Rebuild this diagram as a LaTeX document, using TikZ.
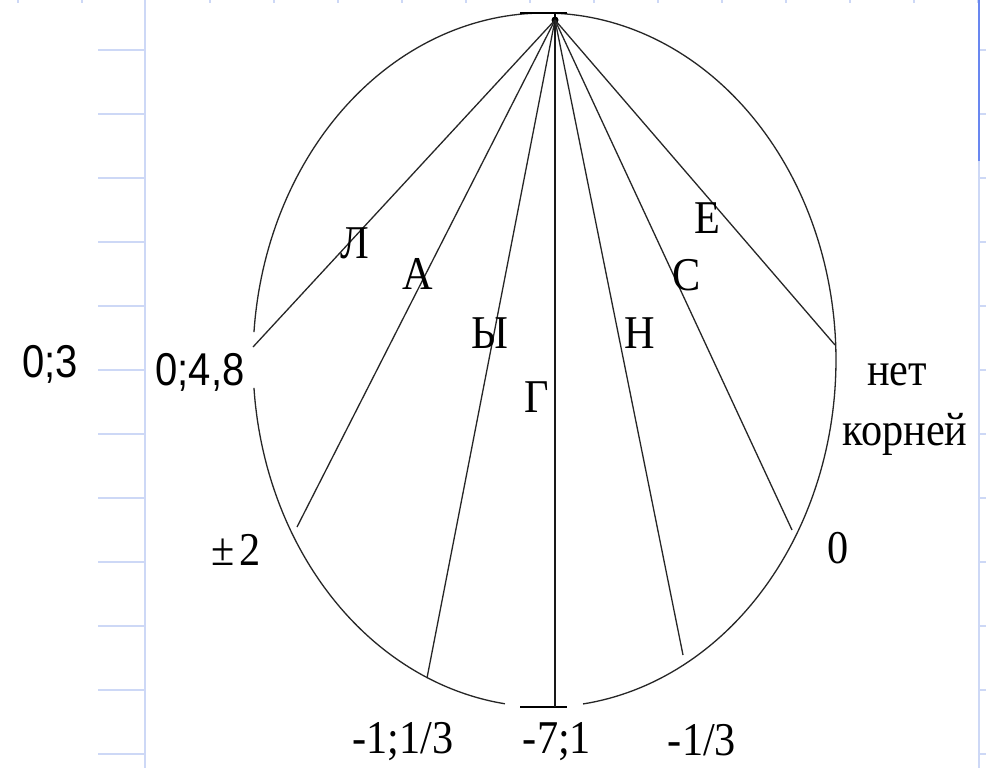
\documentclass[tikz,border=0pt]{standalone}
\usepackage{fontspec}
\setmainfont{Liberation Serif}[FakeStretch=0.9]
\newfontfamily\arialf{Liberation Sans}[FakeStretch=0.87]
\definecolor{gridl}{RGB}{205,216,246}
\definecolor{gridd}{RGB}{105,135,240}
\begin{document}
\begin{tikzpicture}[x=1pt,y=-1pt,
  gridline/.style={draw=gridl,line width=1.3pt},
  chord/.style={draw=black!85,line width=1.3pt},
  lbl/.style={anchor=base,inner sep=0pt,font=\fontsize{47}{50}\selectfont},
  albl/.style={anchor=base,inner sep=0pt,font=\arialf\fontsize{46}{50}\selectfont}]
\useasboundingbox (0,0) rectangle (986,768);
\fill[white] (0,0) rectangle (986,768);
% background grid
\draw[gridline] (145,0) -- (145,768);
\foreach \k in {0,...,11} {\draw[gridline] (98,{50+64*\k}) -- (145,{50+64*\k});}
\foreach \k in {0,...,11} {\draw[gridline] (979,{50+64*\k}) -- (986,{50+64*\k});}
\foreach \k in {0,1,3,4,...,15} {\draw[gridline] ({18+64*\k},0) -- ({18+64*\k},3);}
\draw[gridline] (979,161) -- (979,768);
\draw[draw=gridd,line width=1.5pt] (979,0) -- (979,161);
% ellipse with gaps
\draw[black!85,line width=1.3pt] plot[domain=184.6:442.4,samples=200] ({544.5+291.5*cos(\x)},{360+347*sin(\x)});
\draw[black!85,line width=1.3pt] plot[domain=97.8:175.4,samples=100] ({544.5+291.5*cos(\x)},{360+347*sin(\x)});
\draw[black,line width=2pt] (520,13) -- (567,13);
\draw[black,line width=2pt] (520,707) -- (567,707);
% points
\coordinate (apex) at (555,20);
\coordinate (eL) at (253,347);
\coordinate (eA) at (297,527);
\coordinate (eY) at (427,678);
\coordinate (eG) at (555,707);
\coordinate (eN) at (683,655);
\coordinate (eS) at (792,530);
\coordinate (eE) at (835,345);
\draw[black,line width=1.5pt] (555,13) -- (apex);
\fill[black] (apex) circle (3.5pt);
% chords
\draw[chord] (apex) -- (eL);
\draw[chord] (apex) -- (eA);
\draw[chord] (apex) -- (eY);
\draw[black!90,line width=1.6pt] (apex) -- (eG);
\draw[chord] (apex) -- (eN);
\draw[chord] (apex) -- (eS);
\draw[chord] (apex) -- (eE);
% chord labels
\node[lbl] (tL) at (355,258) {Л};
\node[lbl] (tA) at (418,289) {А};
\node[lbl] (tY) at (490,348) {Ы};
\node[lbl] (tG) at (537,412) {Г};
\node[lbl] (tN) at (640,348) {Н};
\node[lbl] (tS) at (687,290) {С};
\node[lbl] (tE) at (707,233) {Е};
% value labels
\node[albl] (v03) at (50,377) {0;3};
\node[albl] (v048) at (200,385) {0;4,8};
\node[lbl] (vpm) at (236,565) {±\kern4pt2};
\node[lbl] (vnet) at (897,385) {нет};
\node[lbl] (vkor) at (905,445) {корней};
\node[lbl] (v0) at (838,563) {0};
\node[lbl] (v113) at (403,753) {-1;1/3};
\node[lbl] (v71) at (557,753) {-7;1};
\node[lbl] (v13) at (702,755) {-1/3};
\end{tikzpicture}
\end{document}
